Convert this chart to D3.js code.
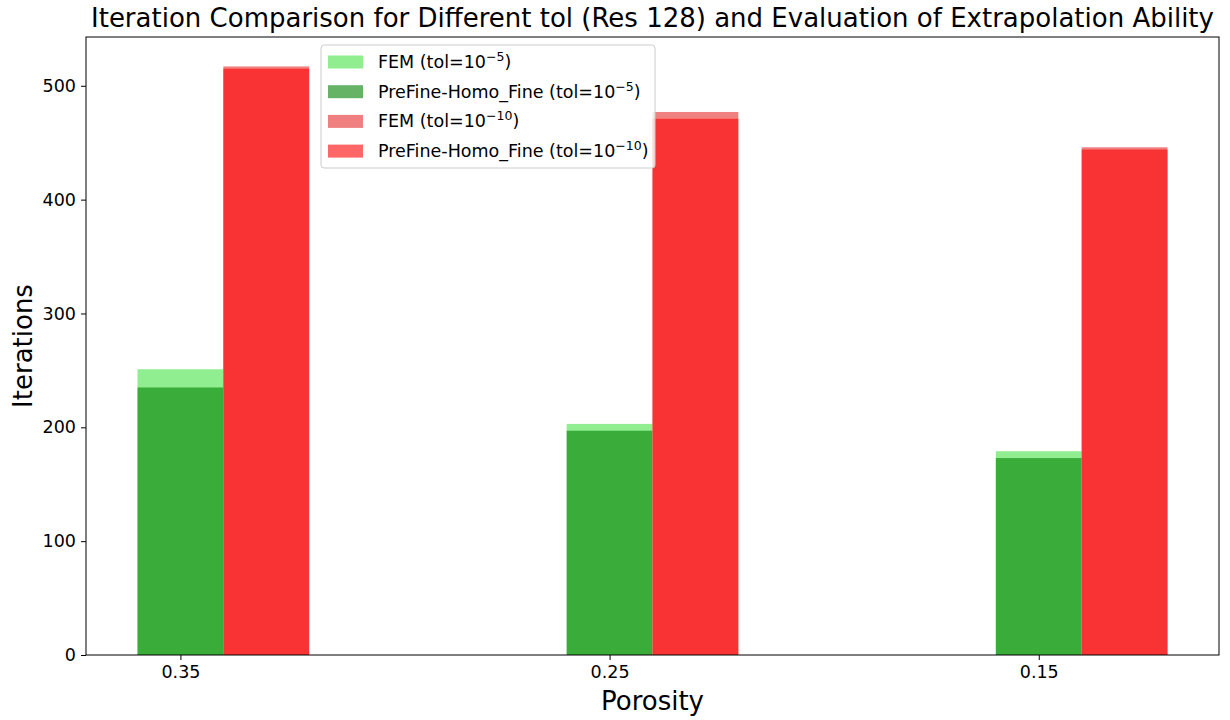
<!DOCTYPE html>
<html>
<head>
<meta charset="utf-8">
<script src="https://cdn.jsdelivr.net/npm/d3@7"></script>
<style>
  body { margin: 0; background: #fff; }
  svg { font-family: "DejaVu Sans", sans-serif; }
</style>
</head>
<body>
<svg id="chart" width="1230" height="720"></svg>
<script>
// Porosity groups and iteration counts per solver / tolerance
const porosity = ["0.35", "0.25", "0.15"];
const femTol5 = [251, 203, 179];
const preFineTol5 = [235, 197, 173];
const femTol10 = [517, 477, 446];
const preFineTol10 = [515, 471, 444];
const yTicks = [0, 100, 200, 300, 400, 500];

const series = [
  { label: "FEM", exp: "5", values: femTol5, offset: 0, color: "#90ee90", opacity: 1 },
  { label: "PreFine-Homo_Fine", exp: "5", values: preFineTol5, offset: 0, color: "#008000", opacity: 0.6 },
  { label: "FEM", exp: "10", values: femTol10, offset: 1, color: "#f08080", opacity: 1 },
  { label: "PreFine-Homo_Fine", exp: "10", values: preFineTol10, offset: 1, color: "#ff0000", opacity: 0.6 }
];

const svg = d3.select("#chart");
const margin = { left: 86, right: 11, top: 37, bottom: 65 };
const W = 1230, H = 720;
const barW = 0.2;
const tickFont = 17.5;

const x = d3.scaleLinear()
  .domain([-0.1 - 0.12, 2.3 + 0.12])
  .range([margin.left, W - margin.right]);
const yMax = d3.max([...femTol10, ...preFineTol10]) * 1.05;
const y = d3.scaleLinear()
  .domain([0, yMax])
  .range([H - margin.bottom, margin.top]);

// bars: lower tolerance on the tick, tighter tolerance to its right
const g = svg.append("g");
series.forEach(s => {
  g.selectAll(null)
    .data(s.values)
    .join("rect")
    .attr("x", (d, i) => x(i + s.offset * barW - barW / 2))
    .attr("width", x(barW) - x(0))
    .attr("y", d => y(d))
    .attr("height", d => y(0) - y(d))
    .attr("fill", s.color)
    .attr("fill-opacity", s.opacity);
});

// axes
const xAxis = d3.axisBottom(x)
  .tickValues(porosity.map((p, i) => i))
  .tickFormat(i => porosity[i])
  .tickSizeOuter(0).tickSize(5).tickPadding(6);
const yAxis = d3.axisLeft(y)
  .tickValues(yTicks)
  .tickSizeOuter(0).tickSize(5).tickPadding(5);

const gx = svg.append("g")
  .attr("transform", `translate(0,${H - margin.bottom})`)
  .call(xAxis);
const gy = svg.append("g")
  .attr("transform", `translate(${margin.left},0)`)
  .call(yAxis);
[gx, gy].forEach(a => {
  a.selectAll("text").attr("font-size", tickFont).attr("fill", "#000")
    .attr("font-family", "DejaVu Sans");
  a.selectAll("line").attr("stroke", "#000").attr("stroke-width", 1);
  a.select(".domain").remove();
});

// frame
svg.append("rect")
  .attr("x", margin.left).attr("y", margin.top)
  .attr("width", W - margin.right - margin.left)
  .attr("height", H - margin.bottom - margin.top)
  .attr("fill", "none").attr("stroke", "#000").attr("stroke-width", 1);

// title and axis labels
svg.append("text")
  .attr("x", (margin.left + W - margin.right) / 2).attr("y", 27)
  .attr("text-anchor", "middle").attr("font-size", 26)
  .text("Iteration Comparison for Different tol (Res 128) and Evaluation of Extrapolation Ability");
svg.append("text")
  .attr("x", (margin.left + W - margin.right) / 2).attr("y", 710)
  .attr("text-anchor", "middle").attr("font-size", 26)
  .text("Porosity");
svg.append("text")
  .attr("transform", `translate(32,${(margin.top + H - margin.bottom) / 2}) rotate(-90)`)
  .attr("text-anchor", "middle").attr("font-size", 26)
  .text("Iterations");

// legend
const lg = svg.append("g").attr("transform", "translate(321,45)");
lg.append("rect")
  .attr("width", 334).attr("height", 123).attr("rx", 3)
  .attr("fill", "#fff").attr("fill-opacity", 0.8)
  .attr("stroke", "#cccccc").attr("stroke-width", 1);
series.forEach((s, i) => {
  const cy = 17 + i * 29.7;
  lg.append("rect")
    .attr("x", 7).attr("y", cy - 6.5).attr("width", 35).attr("height", 13)
    .attr("fill", s.color).attr("fill-opacity", s.opacity);
  const t = lg.append("text")
    .attr("x", 57).attr("y", cy + 6).attr("font-size", tickFont);
  t.append("tspan").text(`${s.label} (tol=10`);
  t.append("tspan").attr("dy", -7).attr("font-size", 12.5).text(`\u2212${s.exp}`);
  t.append("tspan").attr("dy", 7).text(")");
});
</script>
</body>
</html>
